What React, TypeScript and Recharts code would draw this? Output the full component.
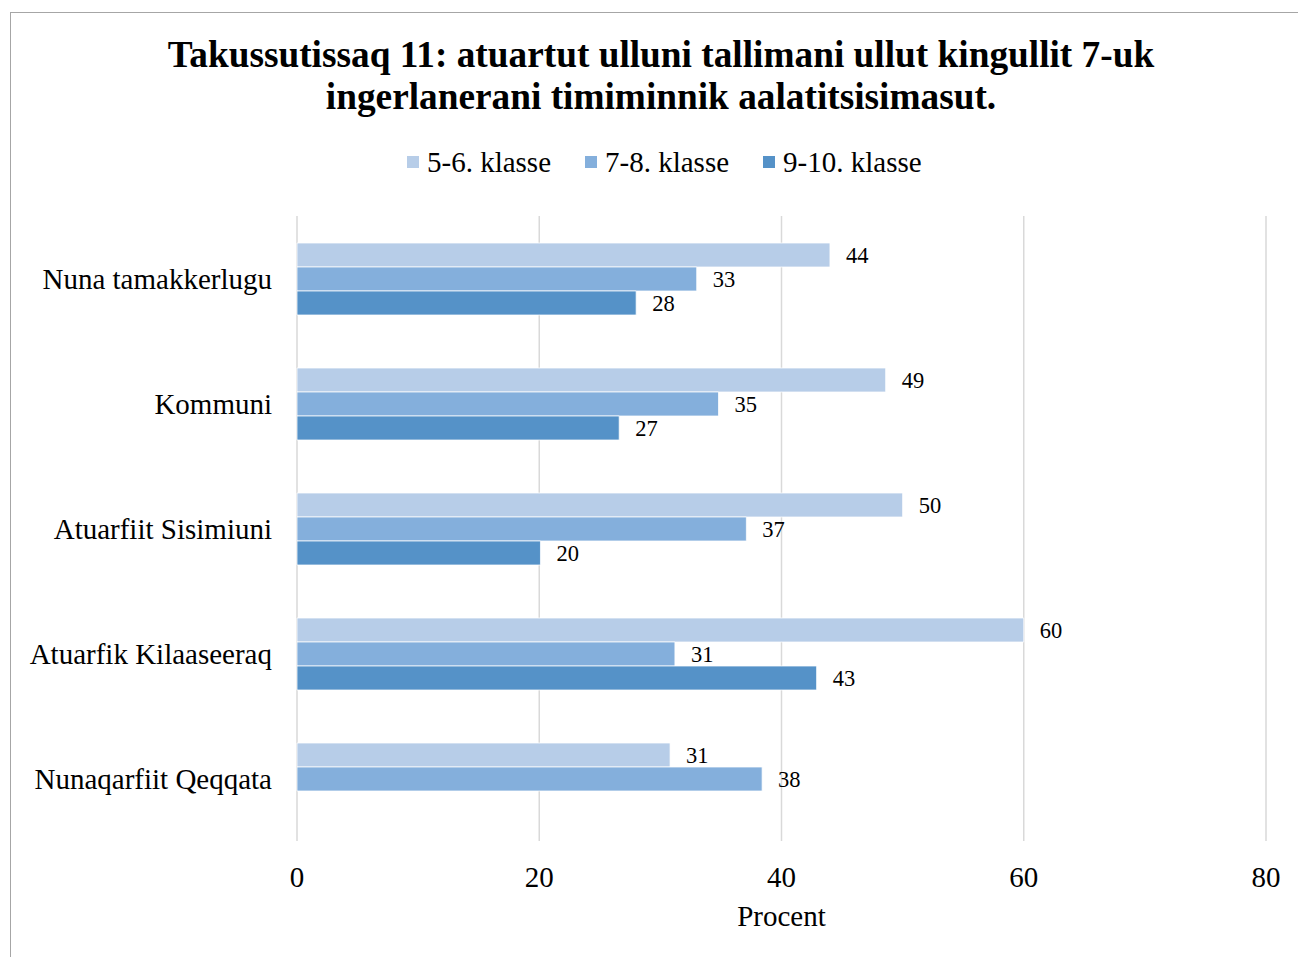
import { BarChart, Bar, XAxis, YAxis, CartesianGrid, LabelList } from 'recharts';

const categories = [
  'Nuna tamakkerlugu',
  'Kommuni',
  'Atuarfiit Sisimiuni',
  'Atuarfik Kilaaseeraq',
  'Nunaqarfiit Qeqqata',
];

const klasse56 = [44, 48.6, 50, 60, 30.8];
const klasse78 = [33, 34.8, 37.1, 31.2, 38.4];
const klasse910: (number | null)[] = [28, 26.6, 20.1, 42.9, null];

const xTicks = [0, 20, 40, 60, 80];

const SERIES = [
  { key: 'k56', name: '5-6. klasse', color: '#B7CDE8' },
  { key: 'k78', name: '7-8. klasse', color: '#84AFDC' },
  { key: 'k910', name: '9-10. klasse', color: '#5592C8' },
];

const FONT = "'Liberation Serif', 'Times New Roman', serif";

const data = categories.map((name, i) => ({
  name,
  k56: klasse56[i],
  k78: klasse78[i],
  k910: klasse910[i],
}));

const fmt = (v: unknown) => (v == null ? '' : Math.round(Number(v)).toString());

export default function App() {
  return (
    <div
      style={{
        position: 'absolute',
        left: 10,
        top: 12,
        width: 1300,
        height: 960,
        borderTop: '1px solid #A6A6A6',
        borderLeft: '1px solid #A6A6A6',
        background: '#fff',
        fontFamily: FONT,
      }}
    >
      <div
        style={{
          position: 'absolute',
          left: 0,
          top: 21,
          width: 1300,
          textAlign: 'center',
          fontSize: 37.3,
          lineHeight: '42px',
          fontWeight: 'bold',
          color: '#000',
        }}
      >
        Takussutissaq 11: atuartut ulluni tallimani ullut kingullit 7-uk
        <br />
        ingerlanerani timiminnik aalatitsisimasut.
      </div>

      {/* legend */}
      <div
        style={{
          position: 'absolute',
          left: 396,
          top: 131,
          display: 'flex',
          alignItems: 'center',
          fontSize: 29,
          lineHeight: '36px',
          color: '#000',
        }}
      >
        {SERIES.map((s, i) => (
          <div key={s.key} style={{ display: 'flex', alignItems: 'center', marginRight: i < 2 ? 34 : 0 }}>
            <span style={{ width: 12, height: 12, background: s.color, marginRight: 8, display: 'inline-block' }} />
            <span>{s.name}</span>
          </div>
        ))}
      </div>

      <div style={{ position: 'absolute', left: 0, top: 0 }}>
        <BarChart
          width={1287}
          height={944}
          data={data}
          layout="vertical"
          margin={{ top: 203, right: 32, left: 0, bottom: 0 }}
          barSize={24}
          barGap={0}
        >
          <CartesianGrid horizontal={false} stroke="#D9D9D9" strokeWidth={1.5} />
          <XAxis
            type="number"
            domain={[0, 80]}
            ticks={xTicks}
            axisLine={false}
            tickLine={false}
            tickMargin={19}
            height={116}
            tick={{ fill: '#000', fontSize: 29, fontFamily: FONT }}
            label={{
              value: 'Procent',
              position: 'insideBottom',
              offset: 31,
              fill: '#000',
              fontSize: 29,
              fontFamily: FONT,
            }}
          />
          <YAxis
            type="category"
            dataKey="name"
            width={286}
            axisLine={false}
            tickLine={false}
            tickMargin={19}
            tick={{ fill: '#000', fontSize: 29, fontFamily: FONT }}
          />
          {SERIES.map((s) => (
            <Bar
              key={s.key}
              dataKey={s.key}
              name={s.name}
              fill={s.color}
              stroke="#fff"
              strokeWidth={0.75}
              isAnimationActive={false}
            >
              <LabelList
                dataKey={s.key}
                position="right"
                offset={16}
                formatter={fmt}
                style={{ fill: '#000', fontSize: 22.5, fontFamily: FONT }}
              />
            </Bar>
          ))}
        </BarChart>
      </div>
    </div>
  );
}
